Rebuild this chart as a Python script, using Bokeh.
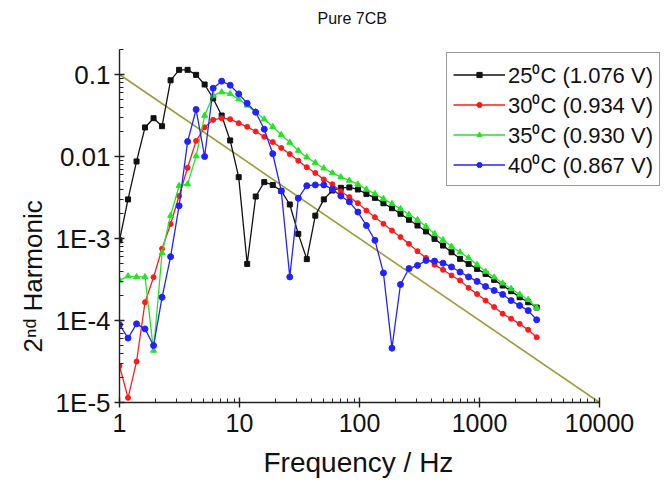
from bokeh.plotting import figure
from bokeh.models import (Range1d, FixedTicker, CustomJSTickFormatter, Legend,
                          LegendItem, Title)
from bokeh.embed import file_html
from bokeh.resources import INLINE

freq = [1, 1.178, 1.387, 1.632, 1.922, 2.263, 2.666, 3.138, 3.695, 4.35,
        5.122, 6.031, 7.101, 8.361, 9.847, 11.59, 13.65, 16.08, 18.93, 22.29,
        26.24, 30.9, 36.38, 42.84, 50.44, 59.39, 69.93, 82.34, 96.96, 114.2,
        134.5, 158.3, 186.4, 219.5, 258.5, 304.3, 358.4, 422.0, 496.8, 585.0,
        688.8, 811.1, 955.1, 1124, 1324, 1559, 1835, 2161, 2545, 2997]

h25 = [9.5e-4, 3.0e-3, 8.7e-3, 0.0226, 0.0293, 0.0234, 0.085, 0.114, 0.114, 0.099,
       0.0755, 0.051, 0.0316, 0.0157, 5.6e-3, 4.9e-4, 3.25e-3, 4.87e-3, 4.5e-3, 3.8e-3,
       2.6e-3, 1.14e-3, 5.6e-4, 1.9e-3, 3.0e-3, 3.85e-3, 4.15e-3, 4.2e-3, 3.96e-3, 3.5e-3,
       3.13e-3, 2.69e-3, 2.34e-3, 2.0e-3, 1.69e-3, 1.44e-3, 1.22e-3, 9.9e-4, 8.2e-4, 6.8e-4,
       5.65e-4, 4.9e-4, 4.26e-4, 3.7e-4, 3.13e-4, 2.67e-4, 2.28e-4, 1.92e-4, 1.67e-4, 1.44e-4]

h30 = [2.8e-5, 1.14e-5, 3.16e-5, 1.67e-4, 3.37e-4, 7.5e-4, 1.5e-3, 3.3e-3, 7.3e-3, 0.0155,
       0.0227, 0.028, 0.0293, 0.0285, 0.0255, 0.023, 0.0202, 0.0174, 0.015, 0.0127,
       0.0107, 8.9e-3, 7.4e-3, 6.3e-3, 5.25e-3, 4.6e-3, 3.75e-3, 3.2e-3, 2.7e-3, 2.19e-3,
       1.82e-3, 1.51e-3, 1.25e-3, 1.04e-3, 8.6e-4, 7.0e-4, 5.8e-4, 4.8e-4, 4.15e-4, 3.54e-4,
       3.08e-4, 2.5e-4, 2.1e-4, 1.75e-4, 1.46e-4, 1.21e-4, 1.05e-4, 9.1e-5, 7.7e-5, 6.25e-5]

h35 = [3.08e-4, 3.47e-4, 3.4e-4, 3.4e-4, 4.3e-5, 6.7e-4, 1.9e-3, 4.4e-3, 4.6e-3, 0.0101,
       0.0316, 0.0555, 0.061, 0.058, 0.05, 0.042, 0.035, 0.0285, 0.023, 0.0184,
       0.0148, 0.0118, 9.8e-3, 8.4e-3, 7.2e-3, 6.3e-3, 5.6e-3, 5.1e-3, 4.6e-3, 3.96e-3,
       3.5e-3, 3.05e-3, 2.65e-3, 2.3e-3, 1.96e-3, 1.69e-3, 1.4e-3, 1.14e-3, 9.6e-4, 8.0e-4,
       6.8e-4, 5.8e-4, 4.8e-4, 3.96e-4, 3.37e-4, 2.85e-4, 2.44e-4, 2.08e-4, 1.79e-4, 1.43e-4]

h40 = [8.9e-5, 6.1e-5, 9.1e-5, 7.9e-5, 4.95e-5, 1.92e-4, 6.0e-4, 2.5e-3, 0.0152, 0.0374,
       0.01, 0.068, 0.083, 0.074, 0.058, 0.0445, 0.0347, 0.0215, 0.0108, 3.8e-3,
       3.4e-4, 3.1e-3, 4.4e-3, 4.5e-3, 4.5e-3, 4.0e-3, 3.3e-3, 2.8e-3, 2.1e-3, 1.44e-3,
       9.5e-4, 3.8e-4, 4.6e-5, 2.75e-4, 4.3e-4, 4.7e-4, 5.4e-4, 5.3e-4, 5.0e-4, 4.5e-4,
       3.9e-4, 3.4e-4, 3.0e-4, 2.6e-4, 2.32e-4, 2.08e-4, 1.75e-4, 1.52e-4, 1.32e-4, 1.02e-4]

ref_x = [1, 10000]
ref_y = [0.1, 1e-5]

x_ticks = [1, 10, 100, 1000, 10000]
y_ticks = [1e-5, 1e-4, 1e-3, 1e-2, 1e-1]

labels = ["25\u2070C (1.076 V)", "30\u2070C (0.934 V)",
          "35\u2070C (0.930 V)", "40\u2070C (0.867 V)"]

FONT = "Liberation Sans"
W, H = 666, 485
ML, MR, MT, MB = 119, 6, 42, 83
fw, fh = W - ML - MR, H - MT - MB

p = figure(width=W, height=H, x_axis_type="log", y_axis_type="log",
           output_backend="svg", toolbar_location=None,
           min_border_left=ML, min_border_right=MR,
           min_border_top=MT, min_border_bottom=MB)
p.x_range = Range1d(1, 10 ** (fw / 120.0))
p.y_range = Range1d(1e-5, 1e-5 * 10 ** (fh / 82.0))
p.outline_line_color = None
p.xgrid.visible = False
p.ygrid.visible = False
p.background_fill_color = "white"
p.border_fill_color = "white"

x_minor = [m * 10 ** e for e in range(0, 4) for m in range(2, 10)]
y_minor = [m * 10 ** e for e in range(-5, -1) for m in range(2, 10)] + [0.2]

for ax, ticks, minor, bnds in ((p.xaxis[0], x_ticks, x_minor, (1, 10000)),
                               (p.yaxis[0], y_ticks, y_minor, (1e-5, 0.2))):
    ax.ticker = FixedTicker(ticks=ticks, minor_ticks=minor)
    ax.bounds = bnds
    ax.axis_line_color = "#222222"
    ax.axis_line_width = 1.4
    ax.major_tick_line_color = "#222222"
    ax.minor_tick_line_color = "#222222"
    ax.major_tick_line_width = 1.4
    ax.major_tick_in = 5
    ax.major_tick_out = 5
    ax.minor_tick_in = 4
    ax.minor_tick_out = 0
    ax.major_label_text_font = FONT
    ax.major_label_text_color = "#111111"

p.xaxis[0].major_label_text_font_size = "25px"
p.yaxis[0].major_label_text_font_size = "26px"
p.xaxis[0].formatter = CustomJSTickFormatter(code="return Math.round(tick).toString();")
p.yaxis[0].formatter = CustomJSTickFormatter(code="""
const e = Math.round(Math.log10(tick));
if (e >= -2) { return Math.pow(10, e).toFixed(-e); }
return '1E' + e;
""")
p.xaxis[0].major_label_standoff = 6
p.yaxis[0].major_label_standoff = 4

p.line(ref_x, ref_y, line_color="#9c9c3c", line_width=1.6)

series = [(h25, "#111111", "square", 5),
          (h30, "#ff1a1a", "circle", 5),
          (h35, "#22e622", "triangle", 6),
          (h40, "#2222ff", "circle", 6)]
items = []
for (vals, col, mk, sz), lab in zip(series, labels):
    r1 = p.line(freq, vals, line_color=col, line_width=1.3)
    r2 = p.scatter(freq, vals, marker=mk, size=sz, fill_color=col, line_color=col)
    items.append(LegendItem(label=lab, renderers=[r1, r2]))

leg = Legend(items=items, location=(446 - ML, 216))
leg.label_text_font = FONT
leg.label_text_font_size = "22px"
leg.label_text_color = "#111111"
leg.glyph_width = 52
leg.glyph_height = 13
leg.label_height = 30
leg.label_standoff = 3
leg.spacing = 0
leg.padding = 6
leg.margin = 0
leg.border_line_color = "#333333"
leg.border_line_width = 1.5
leg.background_fill_color = "white"
leg.background_fill_alpha = 1.0
p.add_layout(leg, "center")

# titles placed in the side panels (offset measured from the frame edge)
main_title = Title(text="Pure 7CB", align="left", offset=352 - ML - 35,
                   text_font=FONT, text_font_size="16px", text_font_style="normal",
                   text_color="#111111")
top_spacer = Title(text=" ", text_font=FONT, text_font_size="8px", standoff=0)
p.title = None
p.above = [top_spacer, main_title]

xt = Title(text="Frequency / Hz", align="left", offset=358 - ML - 95,
           text_font=FONT, text_font_size="28px", text_font_style="normal",
           text_color="#111111")
bottom_spacer = Title(text=" ", text_font=FONT, text_font_size="3px", standoff=0)
p.below = [p.below[0], bottom_spacer, xt]

yt = Title(text="2\u207f\u1d48 Harmonic", align="left", offset=(H - MB) - 352,
           text_font=FONT, text_font_size="26px", text_font_style="normal",
           text_color="#111111", standoff=10)
p.add_layout(yt, "left")

open("out.html", "w").write(file_html(p, INLINE))
